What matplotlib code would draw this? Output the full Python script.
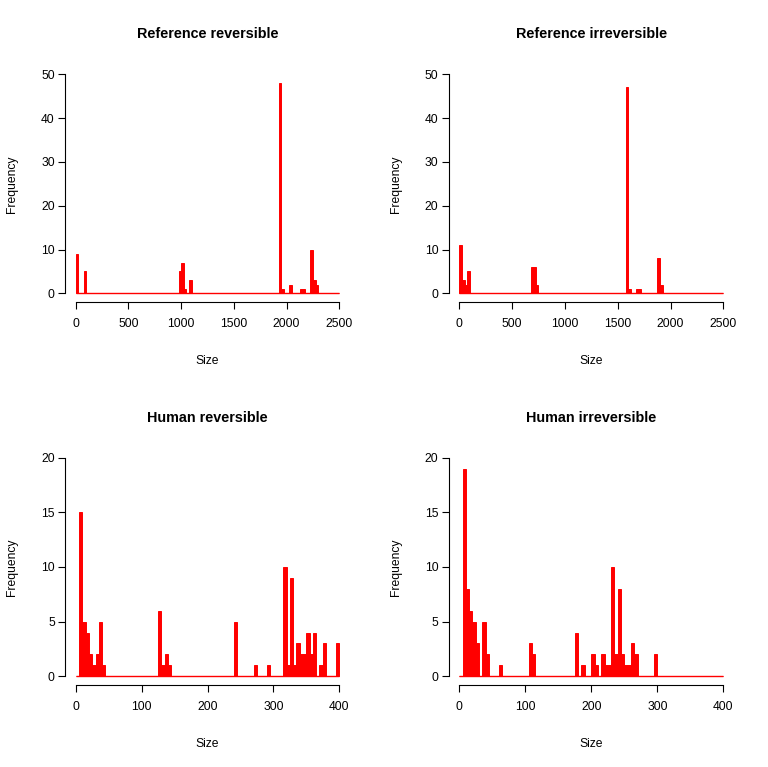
import numpy as np
import matplotlib
matplotlib.use("Agg")
import matplotlib.pyplot as plt

plt.rcParams['font.family'] = ['Liberation Sans', 'DejaVu Sans']

# ---------------------------------------------------------------------------
# histogram counts (left edge of bin -> count)
# top row: bins of 25 on 0..2500, bottom row: bins of 5 on 0..400
# ---------------------------------------------------------------------------
ref_rev_bins = [0, 75, 975, 1000, 1025, 1075, 1925, 1950, 2025, 2125, 2150,
                2225, 2250, 2275]
ref_rev_counts = [9, 5, 5, 7, 1, 3, 48, 1, 2, 1, 1, 10, 3, 2]

ref_irr_bins = [0, 25, 50, 75, 675, 700, 725, 1575, 1600, 1675, 1700, 1875, 1900]
ref_irr_counts = [11, 3, 2, 5, 6, 6, 2, 47, 1, 1, 1, 8, 2]

hum_rev_bins = [5, 10, 15, 20, 25, 30, 35, 40,
                125, 130, 135, 140,
                240, 270, 290,
                315, 320, 325, 330, 335, 340, 345, 350, 355, 360, 370, 375, 395]
hum_rev_counts = [15, 5, 4, 2, 1, 2, 5, 1,
                  6, 1, 2, 1,
                  5, 1, 1,
                  10, 1, 9, 1, 3, 2, 2, 4, 2, 4, 1, 3, 3]

hum_irr_bins = [5, 10, 15, 20, 25, 35, 40, 60,
                105, 110,
                175, 185, 200, 205, 215, 220, 225, 230, 235, 240, 245, 250, 255,
                260, 265, 295]
hum_irr_counts = [19, 8, 6, 5, 3, 5, 2, 1,
                  3, 2,
                  4, 1, 2, 1, 2, 1, 1, 10, 2, 8, 2, 1, 1,
                  3, 2, 2]

titles = ["Reference reversible", "Reference irreversible",
          "Human reversible", "Human irreversible"]

W, H = 768, 767
fig = plt.figure(figsize=(W / 100, H / 100), dpi=100)


def add_px_axes(left, top, right, bottom):
    return fig.add_axes([left / W, 1 - bottom / H, (right - left) / W, (bottom - top) / H])


def draw_hist(ax, bins, counts, width, xmax, ymax, xstep, ystep):
    edges = np.arange(0, xmax + width, width)
    centers = np.array(bins) + width / 2
    ax.hist(centers, bins=edges, weights=counts, color='red',
            edgecolor='red', linewidth=0.7)
    # empty bins show up as a red line along zero, like R's hist borders
    ax.hlines(0, edges[0], edges[-1], color='red', linewidth=1.0)
    ax.set_xlim(-0.04 * xmax, 1.04 * xmax)
    ax.set_ylim(-0.04 * ymax, 1.04 * ymax)
    ax.set_xticks(np.arange(0, xmax + 1, xstep))
    ax.set_yticks(np.arange(0, ymax + 1, ystep))
    for s in ['top', 'right']:
        ax.spines[s].set_visible(False)
    ax.spines['left'].set_bounds(0, ymax)
    ax.spines['bottom'].set_bounds(0, xmax)
    for s in ['left', 'bottom']:
        ax.spines[s].set_linewidth(0.8)
    ax.tick_params(axis='both', direction='out', length=5, width=0.8,
                   labelsize=8.7)
    ax.tick_params(axis='x', pad=6.5)
    ax.tick_params(axis='y', pad=2.5)


panels = [
    (ref_rev_bins, ref_rev_counts, 25, 2500, 50, 500, 10, 65.2, 65.5, 349.8, 302.1),
    (ref_irr_bins, ref_irr_counts, 25, 2500, 50, 500, 10, 448.7, 65.5, 733.9, 302.1),
    (hum_rev_bins, hum_rev_counts, 5, 400, 20, 100, 5, 65.2, 448.9, 349.8, 685.0),
    (hum_irr_bins, hum_irr_counts, 5, 400, 20, 100, 5, 448.7, 448.9, 733.9, 685.0),
]

for i, (b, c, w, xm, ym, xs, ys, l, t, r, bt) in enumerate(panels):
    ax = add_px_axes(l, t, r, bt)
    draw_hist(ax, b, c, w, xm, ym, xs, ys)
    cx = (l + r) / 2
    # R style annotations placed by pixel position
    fig.text(cx / W, 1 - (t - 31) / H, titles[i], ha='center', va='center',
             fontsize=10.4, fontweight='bold')
    fig.text(cx / W, 1 - (bt + 59) / H, "Size", ha='center', va='center',
             fontsize=8.7)
    fig.text((l - 53) / W, 1 - ((t + bt) / 2) / H, "Frequency", ha='center',
             va='center', rotation=90, fontsize=8.7)

fig.savefig("out.png", dpi=100, facecolor='white')
